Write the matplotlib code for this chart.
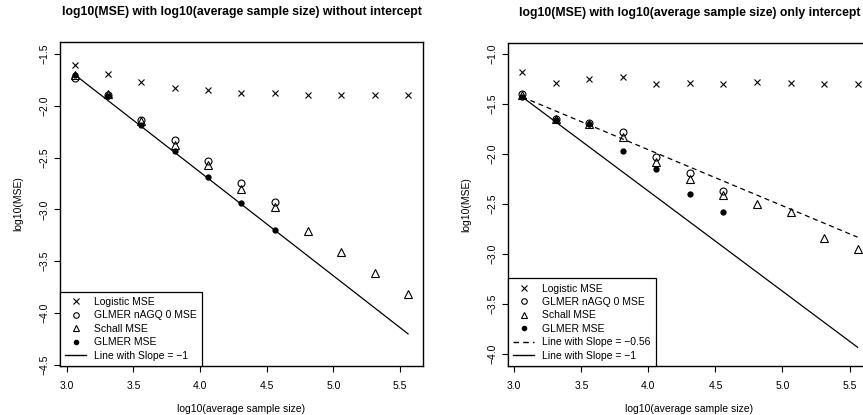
import matplotlib
matplotlib.use('Agg')
import matplotlib.pyplot as plt
from matplotlib.lines import Line2D

plt.rcParams['font.family'] = ['Liberation Sans', 'DejaVu Sans']

# log10(average sample size)
log_n = [3.06, 3.31, 3.56, 3.81, 4.06, 4.31, 4.56, 4.81, 5.06, 5.31, 5.56]

# without intercept
logistic_a = [-1.61, -1.69, -1.77, -1.83, -1.85, -1.875, -1.875, -1.90, -1.90, -1.90, -1.90]
nagq0_a = [-1.73, -1.90, -2.135, -2.335, -2.53, -2.745, -2.93]
schall_a = [-1.70, -1.885, -2.15, -2.375, -2.575, -2.80, -2.975, -3.21, -3.41, -3.61, -3.82]
glmer_a = [-1.70, -1.905, -2.185, -2.44, -2.69, -2.94, -3.20]

# only intercept
logistic_b = [-1.18, -1.29, -1.25, -1.23, -1.30, -1.29, -1.30, -1.28, -1.29, -1.30, -1.30]
nagq0_b = [-1.40, -1.65, -1.69, -1.78, -2.03, -2.19, -2.37]
schall_b = [-1.41, -1.65, -1.70, -1.83, -2.08, -2.25, -2.41, -2.50, -2.58, -2.84, -2.95]
glmer_b = [-1.43, -1.66, -1.70, -1.97, -2.15, -2.40, -2.58]

slope_fit = -0.56

W, H = 863, 415
fig = plt.figure(figsize=(W / 100, H / 100), dpi=100)

def px_axes(x0, x1, y0, y1):
    return fig.add_axes([x0 / W, (H - y1) / H, (x1 - x0) / W, (y1 - y0) / H])

def style(ax, title):
    for s in ax.spines.values():
        s.set_linewidth(1.0)
    ax.tick_params(direction='out', length=4, width=0.8, labelsize=7.5)
    ax.tick_params(axis='x', pad=7)
    ax.tick_params(axis='y', pad=3.5)
    ax.set_xticks([3.0, 3.5, 4.0, 4.5, 5.0, 5.5])
    for lab in ax.get_yticklabels():
        lab.set_rotation(90)
        lab.set_va('center')
    ax.set_xlabel('log10(average sample size)', fontsize=7.5, labelpad=9.5)
    ax.set_ylabel('log10(MSE)', fontsize=7.5, labelpad=12)
    ax.set_title(title, fontsize=8.8, fontweight='bold', pad=19.5)

def draw_points(ax, logistic, nagq0, schall, glmer):
    ax.plot(log_n, logistic, 'x', color='black', ms=4.5, mew=0.8)
    ax.plot(log_n[:len(nagq0)], nagq0, 'o', mfc='none', mec='black', ms=5, mew=0.8)
    ax.plot(log_n, schall, '^', mfc='none', mec='black', ms=5.5, mew=0.8)
    ax.plot(log_n[:len(glmer)], glmer, 'o', color='black', ms=3.5)

def handles(extra_dashed=None):
    h = [
        Line2D([], [], ls='none', marker='x', color='black', ms=4, mew=0.8, label='Logistic MSE'),
        Line2D([], [], ls='none', marker='o', mfc='none', mec='black', ms=4, mew=0.8, label='GLMER nAGQ 0 MSE'),
        Line2D([], [], ls='none', marker='^', mfc='none', mec='black', ms=4.5, mew=0.8, label='Schall MSE'),
        Line2D([], [], ls='none', marker='o', color='black', ms=3, label='GLMER MSE'),
    ]
    if extra_dashed is not None:
        h.append(Line2D([], [], color='black', lw=1, ls=(0, (4, 3)), label=extra_dashed))
    h.append(Line2D([], [], color='black', lw=1, label='Line with Slope = \u22121'))
    return h

def add_legend(ax, h):
    leg = ax.legend(handles=h, loc='lower left', bbox_to_anchor=(0, 0), borderaxespad=0,
                    fontsize=7.5, fancybox=False, edgecolor='black', framealpha=1,
                    handlelength=2.0, handletextpad=0.8, labelspacing=0.33, borderpad=0.5)
    leg.get_frame().set_linewidth(0.9)

# left panel: slope -1 through the first GLMER point
ax1 = px_axes(60, 423, 42, 366)
draw_points(ax1, logistic_a, nagq0_a, schall_a, glmer_a)
x0 = log_n[0]
ax1.plot([x0, log_n[-1]], [glmer_a[0], glmer_a[0] - (log_n[-1] - x0)], color='black', lw=0.9)
ax1.set_xlim(2.95, 5.672)
ax1.set_ylim(-4.51, -1.385)
ax1.set_yticks([-1.5, -2.0, -2.5, -3.0, -3.5, -4.0, -4.5])
ax1.set_yticklabels(['\u22121.5', '\u22122.0', '\u22122.5', '\u22123.0', '\u22123.5', '\u22124.0', '\u22124.5'])
style(ax1, 'log10(MSE) with log10(average sample size) without intercept')
add_legend(ax1, handles())

# right panel: fitted slope and slope -1 through the first GLMER point
ax2 = px_axes(508, 871, 42.7, 366)
draw_points(ax2, logistic_b, nagq0_b, schall_b, glmer_b)
y0 = glmer_b[0]
ax2.plot([x0, log_n[-1]], [y0, y0 + slope_fit * (log_n[-1] - x0)], color='black', lw=0.9, ls=(0, (4, 3)))
ax2.plot([x0, log_n[-1]], [y0, y0 - (log_n[-1] - x0)], color='black', lw=0.9)
ax2.set_xlim(2.953, 5.66)
ax2.set_ylim(-4.117, -0.887)
ax2.set_yticks([-1.0, -1.5, -2.0, -2.5, -3.0, -3.5, -4.0])
ax2.set_yticklabels(['\u22121.0', '\u22121.5', '\u22122.0', '\u22122.5', '\u22123.0', '\u22123.5', '\u22124.0'])
style(ax2, 'log10(MSE) with log10(average sample size) only intercept')
add_legend(ax2, handles('Line with Slope = \u22120.56'))

fig.savefig('out.png', dpi=100)
